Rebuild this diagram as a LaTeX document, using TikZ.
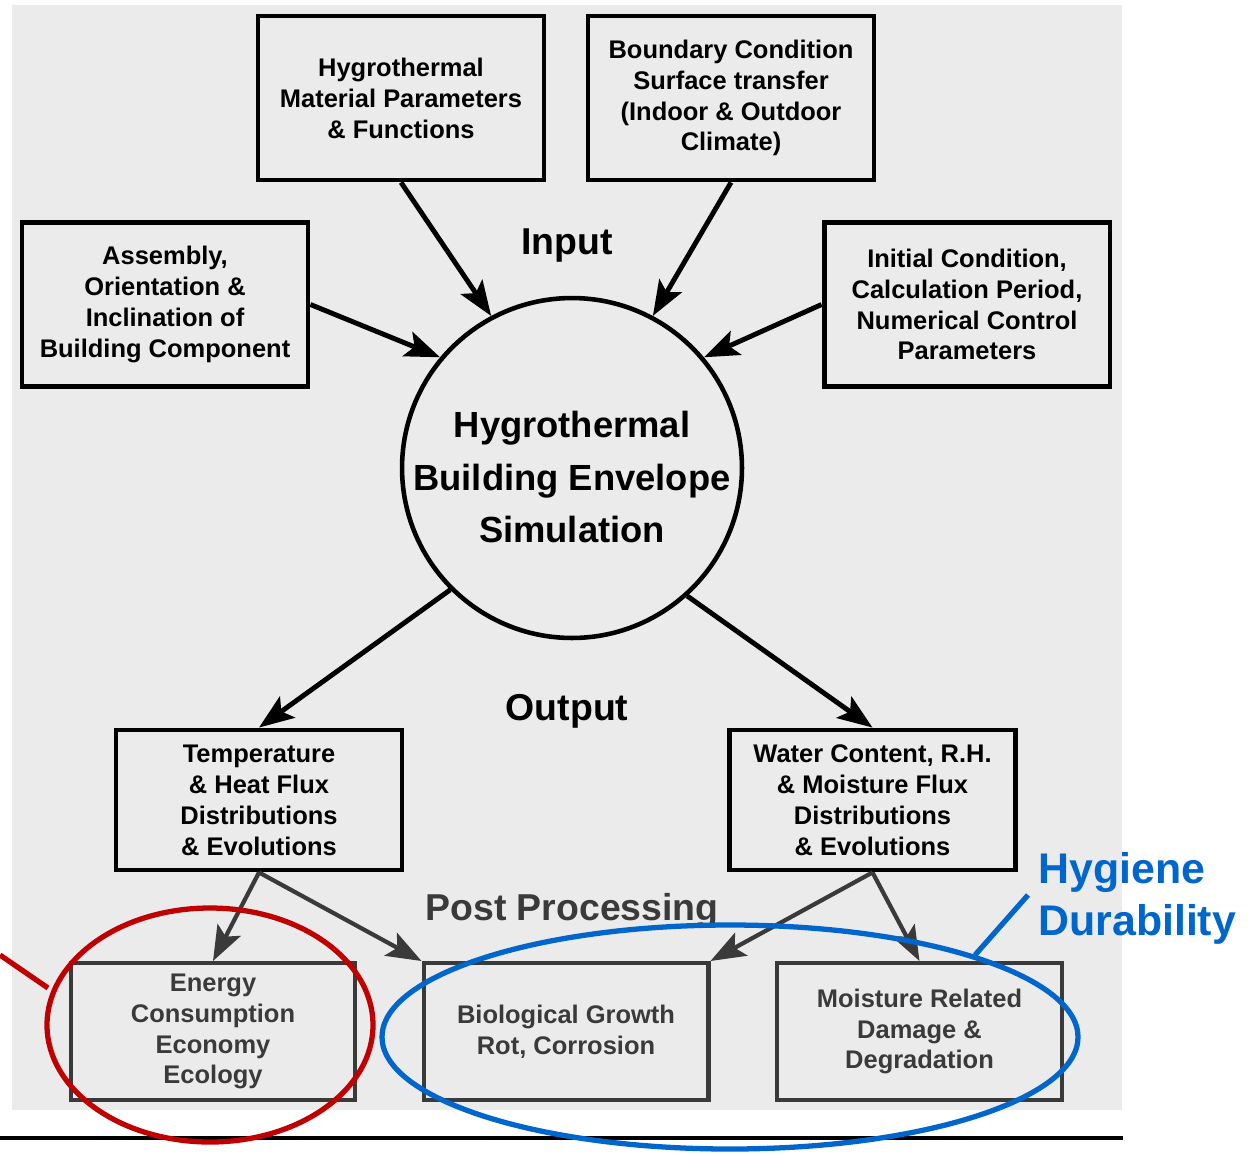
\documentclass[tikz,border=0pt]{standalone}
\usepackage{fontspec}
\setmainfont{Liberation Sans}
\usetikzlibrary{arrows.meta}
\definecolor{panelgray}{HTML}{EBEBEB}
\definecolor{darkline}{HTML}{3A3A3A}
\definecolor{markred}{HTML}{C00000}
\definecolor{markblue}{HTML}{0066CC}
\newcommand\diagboxfont{\fontsize{14.5}{17.6}\selectfont\bfseries}
\newcommand\diagbigfont{\fontsize{20.7}{30}\selectfont\bfseries}
\newcommand\diaglabelfont{\fontsize{21.3}{25}\selectfont\bfseries}
\newcommand\diagnotefont{\fontsize{24.4}{29.5}\selectfont\bfseries}
\begin{document}
\begin{tikzpicture}[x=0.02cm,y=-0.02cm,
  inbox/.style={draw=black, line width=2.8pt, align=center, font=\diagboxfont,
    minimum width=5.72cm, minimum height=3.28cm, inner sep=0pt},
  outbox/.style={inbox, minimum height=2.8cm},
  postbox/.style={draw=darkline, text=darkline, line width=2.3pt, align=center,
    font=\diagboxfont, minimum width=5.7cm, minimum height=2.74cm, inner sep=0pt},
  flow/.style={line width=2.8pt, -{Stealth[length=0.7cm,width=0.52cm,inset=0.15cm]}},
  postflow/.style={flow, draw=darkline, line width=2.4pt},
  stage/.style={font=\diaglabelfont},
  highlight/.style={line width=3pt}]
  % canvas and panel
  \useasboundingbox (0,0) rectangle (1253,1153);
  \fill[panelgray] (12,5) rectangle (1122,1110);

  % input boxes
  \node[inbox] (mat) at (401,98) {Hygrothermal\\Material Parameters\\\& Functions};
  \node[inbox] (bnd) at (731,98) {Boundary Condition\\Surface transfer\\(Indoor \& Outdoor\\Climate)};
  \node[inbox] (asm) at (165,304.5) {Assembly,\\Orientation \&\\Inclination of\\Building Component};
  \node[inbox] (ini) at (967,304.5) {Initial Condition,\\Calculation Period,\\Numerical Control\\Parameters};

  % simulation core
  \node[circle, draw=black, line width=2.6pt, minimum size=6.8cm, inner sep=0pt] (sim) at (572,468) {};
  \node[font=\diagbigfont, align=center] (simtext) at (572,477) {Hygrothermal\\Building Envelope\\Simulation};

  % stage labels
  \node[stage] (inlabel) at (567,246) {Input};
  \node[stage] (outlabel) at (567,711) {Output};
  \node[stage, text=darkline] (postlabel) at (572,911) {Post Processing};

  % output boxes
  \node[outbox] (tmp) at (259,800) {Temperature\\\& Heat Flux\\Distributions\\\& Evolutions};
  \node[outbox] (wat) at (872.5,800) {Water Content, R.H.\\\& Moisture Flux\\Distributions\\\& Evolutions};

  % post-processing boxes
  \node[postbox] (eng) at (213,1031.5) {Energy\\Consumption\\Economy\\Ecology};
  \node[postbox] (bio) at (566,1031.5) {Biological Growth\\Rot, Corrosion};
  \node[postbox] (moi) at (919.5,1031.5) {Moisture Related\\Damage \&\\Degradation};

  % input flows
  \draw[flow] (mat.south) -- (sim.118);
  \draw[flow] (bnd.south) -- (sim.62);
  \draw[flow] (asm.east) -- (sim.140);
  \draw[flow] (ini.west) -- (sim.40);

  % output flows
  \draw[flow] (sim.225) -- (tmp.north);
  \draw[flow] (sim.312) -- (wat.north);

  % post-processing flows
  \draw[postflow] (tmp.south) -- (eng.north);
  \draw[postflow] (tmp.south) -- (bio.north west);
  \draw[postflow] (wat.south) -- (bio.north east);
  \draw[postflow] (wat.south) -- (moi.north);

  % bottom rule
  \draw[line width=1.8pt] (0,1138) -- (1123,1138);

  % highlight rings and pointers
  \coordinate (redend) at (0,955);
  \coordinate (redtip) at (48,988);
  \draw[highlight, markred] (210,1025) ellipse [x radius=163, y radius=117];
  \draw[highlight, markred] (redend) -- (redtip);
  \draw[highlight, markblue] (730,1037) ellipse [x radius=348, y radius=112];
  \coordinate (bluetip) at (975,955);
  \node[font=\diagnotefont, text=markblue, align=left, anchor=north west, inner sep=0pt] (note) at (1038,852) {Hygiene\\Durability};
  \draw[highlight, markblue] (bluetip) -- (1028,895);
\end{tikzpicture}
\end{document}
